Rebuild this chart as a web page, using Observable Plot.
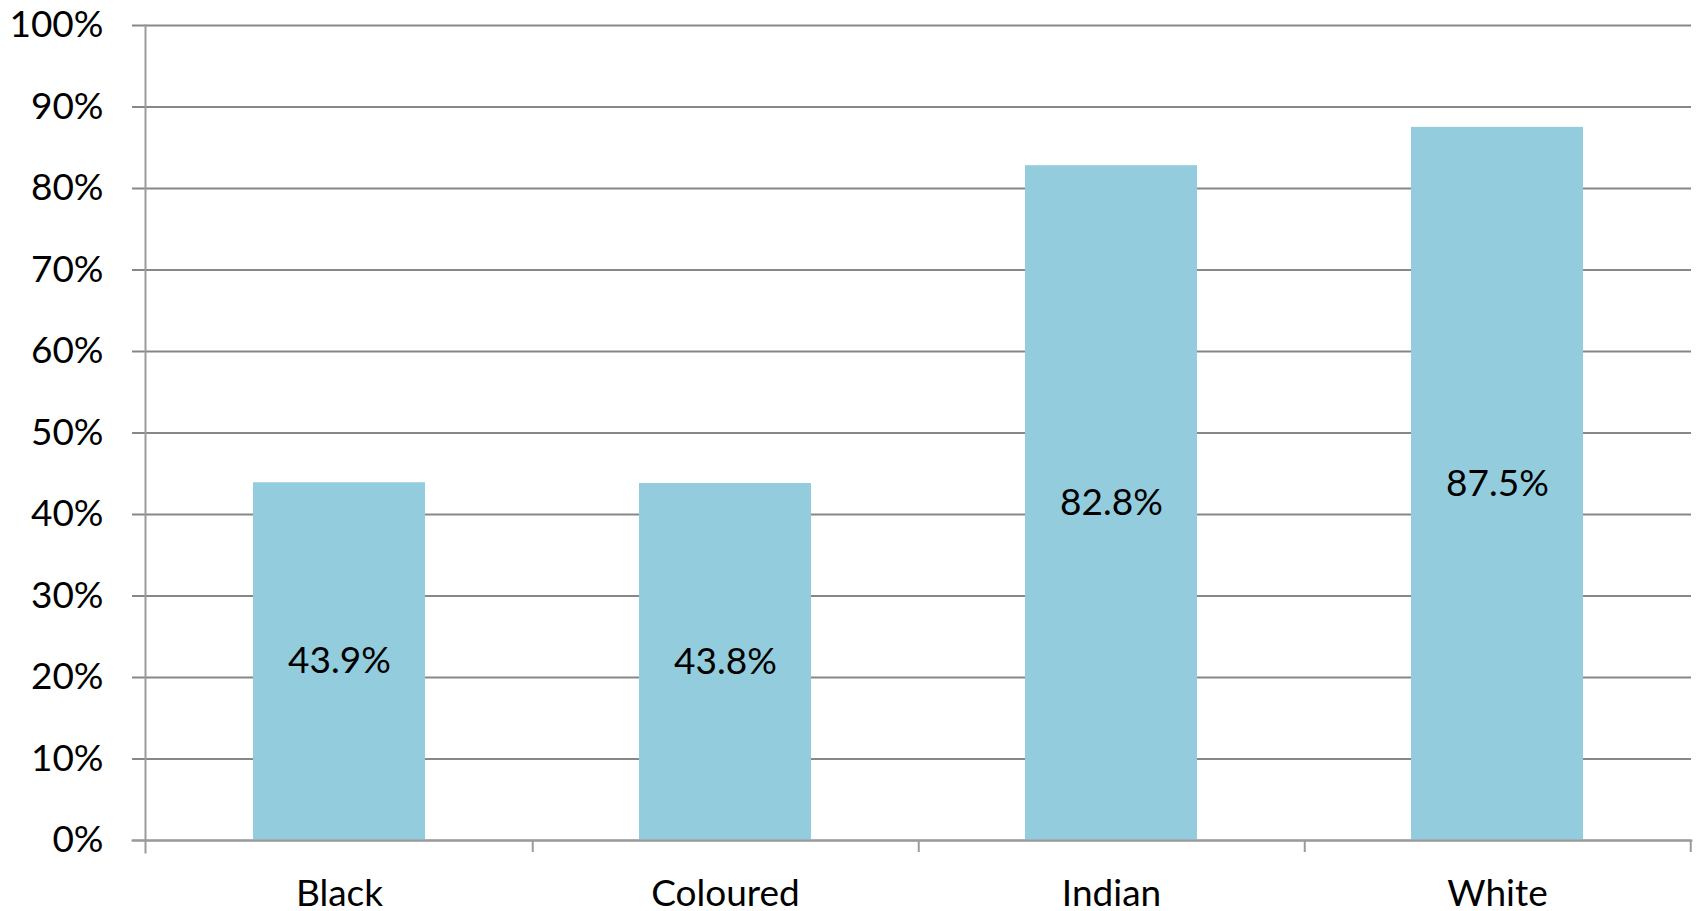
<!DOCTYPE html>
<html>
<head>
<meta charset="utf-8">
<script src="https://cdn.jsdelivr.net/npm/d3@7"></script>
<script src="https://cdn.jsdelivr.net/npm/@observablehq/plot@0.6"></script>
<style>
  html, body { margin: 0; padding: 0; background: #ffffff; }
  #chart svg { display: block; }
</style>
</head>
<body>
<div id="chart"></div>
<script>
// Share of each population group (percent)
const categories = ["Black", "Coloured", "Indian", "White"];
const values = [43.9, 43.8, 82.8, 87.5];
const yTicks = [0, 10, 20, 30, 40, 50, 60, 70, 80, 90, 100];

const data = categories.map((c, i) => ({category: c, value: values[i]}));

const W = 1696, H = 911;
const mL = 145, mR = 5, mT = 25, mB = 71;
const step = (W - mL - mR) / categories.length;
const barInset = 107;

const gridColor = "#878787";
const axisColor = "#9b9b9b";
const font = 37;

const chart = Plot.plot({
  width: W,
  height: H,
  marginLeft: mL,
  marginRight: mR,
  marginTop: mT,
  marginBottom: mB,
  style: {fontFamily: "Lato, 'Open Sans', sans-serif", background: "#ffffff", color: "#000000"},
  x: {type: "band", domain: categories, padding: 0},
  y: {domain: [0, 100]},
  marks: [
    // horizontal gridlines, extending left as ticks
    Plot.ruleY(yTicks, {stroke: gridColor, strokeWidth: 2, insetLeft: -13}),
    // bars
    Plot.barY(data, {x: "category", y: "value", fill: "#93cddd", insetLeft: barInset, insetRight: barInset}),
    // value labels centred inside the bars
    Plot.text(data, {
      x: "category",
      y: d => d.value / 2,
      text: d => d.value.toFixed(1) + "%",
      fontSize: font,
      fill: "#000000"
    }),
    // axis lines
    Plot.frame({anchor: "left", stroke: axisColor, strokeWidth: 2, insetBottom: -12}),
    Plot.frame({anchor: "bottom", stroke: axisColor, strokeWidth: 2, insetLeft: -13}),
    // category boundary ticks below the baseline
    Plot.ruleX(categories, {x: d => d, dx: step / 2, y1: 0, y2: 0, insetBottom: -12, stroke: axisColor, strokeWidth: 2}),
    // y axis labels
    Plot.axisY({
      ticks: yTicks,
      tickFormat: d => d + "%",
      tickSize: 0,
      tickPadding: 42,
      fontSize: font,
      label: null
    }),
    // x axis labels
    Plot.axisX({
      tickSize: 0,
      tickPadding: 39,
      fontSize: font,
      label: null
    })
  ]
});

document.getElementById("chart").appendChild(chart);
</script>
</body>
</html>
